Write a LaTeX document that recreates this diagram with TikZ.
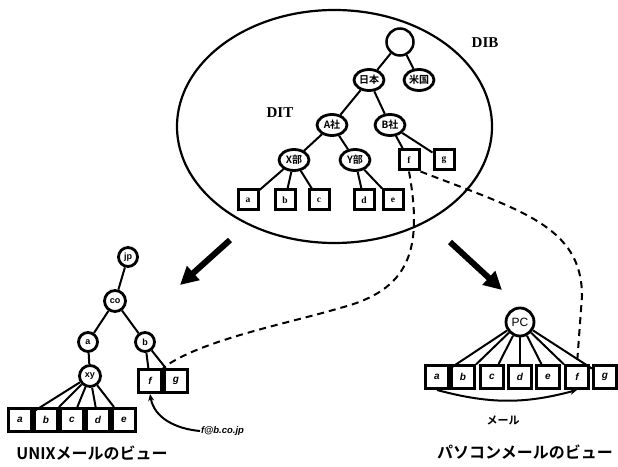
\documentclass[tikz,border=0pt]{standalone}
\usepackage{fontspec}
\setmainfont{Liberation Serif}
\setsansfont{Liberation Sans}
\newfontfamily\cjk{Noto Sans CJK JP Bold}
\usetikzlibrary{shapes.geometric,arrows.meta}
\begin{document}
\begin{tikzpicture}[x=1pt, y=1pt, line width=2pt]
    \tikzstyle{dibnode}=[ellipse, draw, line width=2.8pt, minimum width=30pt, minimum height=21pt, inner sep=0pt, font=\cjk\fontsize{10}{10}\selectfont]
    \tikzstyle{dibleaf}=[rectangle, draw, line width=3pt, minimum size=20pt, inner sep=0pt, font=\bfseries\fontsize{9.5}{9.5}\selectfont]
    \tikzstyle{viewnode}=[circle, draw, line width=2.8pt, minimum size=19pt, inner sep=0pt, font=\sffamily\bfseries\fontsize{9}{9}\selectfont]
    \tikzstyle{viewleaf}=[rectangle, draw, line width=3pt, minimum size=23pt, inner sep=0pt, font=\sffamily\bfseries\itshape\fontsize{10}{10}\selectfont]
    \tikzstyle{bigarrow}=[line width=6pt, -{Triangle[length=18pt,width=18pt]}]
    \tikzstyle{link}=[dash pattern=on 7pt off 5pt]
    \tikzstyle{title}=[font=\cjk\fontsize{16}{16}\selectfont]
    \useasboundingbox (0,0) rectangle (618,466);

    % DIB
    \draw[line width=2.2pt] (334.5,339.5) ellipse [x radius=157.5, y radius=116.5];
    \node (dib) at (485,423) {\bfseries\fontsize{15}{15}\selectfont DIB};
    \node (dit) at (280,353) {\bfseries\fontsize{15}{15}\selectfont DIT};
    \node (root) [circle, draw, line width=2.5pt, minimum size=27pt] at (400,424) {};
    \node (japan) [dibnode] at (369,386) {日本};
    \node (usa) [dibnode] at (419,386) {米国};
    \node (acorp) [dibnode] at (332,341) {A社};
    \node (bcorp) [dibnode] at (390,341) {B社};
    \node (xdept) [dibnode] at (294,306) {X部};
    \node (ydept) [dibnode] at (355,306) {Y部};
    \node (df) [dibleaf] at (409,306) {f};
    \node (dg) [dibleaf] at (444,306) {g};
    \node (da) [dibleaf] at (248,266) {a};
    \node (db) [dibleaf] at (285,266) {b};
    \node (dc) [dibleaf] at (319,266) {c};
    \node (dd) [dibleaf] at (364,266) {d};
    \node (de) [dibleaf] at (393,266) {e};
    \draw (root) -- (japan);
    \draw (root) -- (usa);
    \draw (japan) -- (acorp);
    \draw (japan) -- (bcorp);
    \draw (acorp) -- (xdept);
    \draw (acorp) -- (ydept);
    \draw (bcorp) -- (df);
    \draw (bcorp) -- (dg);
    \draw (xdept) -- (da);
    \draw (xdept) -- (db);
    \draw (xdept) -- (dc);
    \draw (ydept) -- (dd);
    \draw (ydept) -- (de);

    % big arrows
    \coordinate (lfrom) at (230,226);
    \coordinate (lto) at (180,181);
    \coordinate (rfrom) at (450,224);
    \coordinate (rto) at (502,176);
    \draw [bigarrow] (lfrom) -- (lto);
    \draw [bigarrow] (rfrom) -- (rto);

    % UNIX view
    \node (jp) [viewnode] at (128,209) {jp};
    \node (co) [viewnode, minimum size=21pt] at (115,165) {co};
    \node (ua) [viewnode] at (88,124) {a};
    \node (ub) [viewnode] at (145,124) {b};
    \node (xy) [viewnode, minimum size=21pt] at (90,90) {xy};
    \node (uf) [viewleaf] at (150,85) {f};
    \node (ug) [viewleaf] at (176,85) {g};
    \node (ua1) [viewleaf] at (20,46) {a};
    \node (ub1) [viewleaf] at (46,46) {b};
    \node (uc1) [viewleaf] at (72,46) {c};
    \node (ud1) [viewleaf] at (98,46) {d};
    \node (ue1) [viewleaf] at (124,46) {e};
    \draw (jp) -- (co);
    \draw (co) -- (ua);
    \draw (co) -- (ub);
    \draw (ua) -- (xy);
    \draw (ub) -- (uf);
    \draw (ub) -- (ug);
    \foreach \leaf in {ua1,ub1,uc1,ud1,ue1}
        \draw (xy) -- (\leaf);
    \node (addr) [anchor=west, font=\sffamily\bfseries\itshape\fontsize{9.5}{9.5}\selectfont, inner sep=0pt] at (200,35) {f@b.co.jp};
    \draw [-{Stealth[length=7pt,width=6pt]}] (addr.west) to [out=175, in=-80] (uf.south);
    \node (unixview) [title] at (92,13) {UNIXメールのビュー};

    % PC view
    \node (pchost) [viewnode, font=\sffamily\fontsize{12}{12}\selectfont, minimum size=28pt] at (520,144) {PC};
    \foreach \name/\x in {a/437,b/463,c/492,d/520,e/548,f/577,g/605} {
        \node (leaf\name) [viewleaf] at (\x,89) {\name};
        \draw (pchost) -- (leaf\name);
    }
    \draw [-{Stealth[length=7pt,width=6pt]}] (leafa.south) to [bend right=15] (leaff.south);
    \node (mail) [font=\cjk\fontsize{11}{11}\selectfont] at (503,46) {メール};
    \node (pcview) [title] at (525,14) {パソコンメールのビュー};

    % links between views
    \draw [link] (df.south) .. controls (423,216) and (410,176) .. (340,158)
        .. controls (290,143) and (200,126) .. (uf.north east);
    \draw [link] (df.south east) .. controls (520,256) and (582,240) .. (582,170) -- (leaff.north);
\end{tikzpicture}
\end{document}
